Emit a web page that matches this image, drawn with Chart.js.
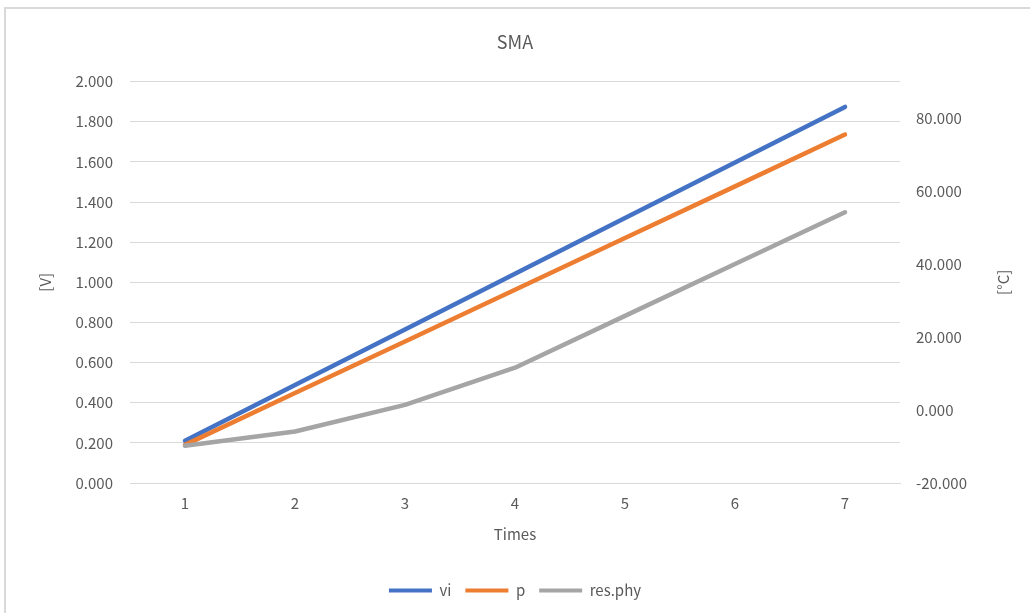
<!DOCTYPE html>
<html>
<head>
<meta charset="utf-8">
<script src="https://cdn.jsdelivr.net/npm/chart.js@4"></script>
<style>
  html, body { margin: 0; padding: 0; background: #fff; }
  #frame { position: absolute; left: 4px; top: 7px; width: 1100px; height: 700px;
           border-left: 2px solid #d9d9d9; border-top: 2px solid #d9d9d9; }
  #chart { position: absolute; left: 0; top: 0; }
</style>
</head>
<body>
<div id="frame"></div>
<canvas id="chart" width="1030" height="613"></canvas>
<script>
const times = ['1', '2', '3', '4', '5', '6', '7']
const vi = [0.211, 0.488, 0.765, 1.043, 1.320, 1.597, 1.874] // [V]
const p = [0.190, 0.448, 0.705, 0.963, 1.221, 1.478, 1.736] // [V]
const resPhy = [-9.8, -5.9, 1.4, 11.6, 25.8, 40.0, 54.2] // [°C]

const textColor = '#595959'
const gridColor = '#d9d9d9'
const fontFamily = '"Noto Sans CJK JP", "Noto Sans", sans-serif'

Chart.defaults.font.family = fontFamily
Chart.defaults.color = textColor

// axis titles, both read bottom to top like the original
const axisTitles = {
    id: 'axisTitles',
    afterDraw(chart) {
        const { ctx, chartArea } = chart
        const midY = (chartArea.top + chartArea.bottom) / 2
        ctx.save()
        ctx.font = '15px ' + fontFamily
        ctx.fillStyle = textColor
        ctx.textAlign = 'center'
        ctx.textBaseline = 'middle'
        for (const [x, label] of [[45, '[V]'], [1003, '[°C]']]) {
            ctx.save()
            ctx.translate(x, midY)
            ctx.rotate(-Math.PI / 2)
            ctx.fillText(label, 0, 0)
            ctx.restore()
        }
        ctx.restore()
    }
}

const lineStyle = (color) => ({
    borderColor: color,
    backgroundColor: color,
    borderWidth: 4.5,
    borderCapStyle: 'round',
    borderJoinStyle: 'round',
    pointRadius: 0,
    tension: 0,
    fill: false
})

new Chart(document.getElementById('chart'), {
    type: 'line',
    data: {
        labels: times,
        datasets: [
            { label: 'vi', data: vi, yAxisID: 'y', order: 3, ...lineStyle('#4472c4') },
            { label: 'p', data: p, yAxisID: 'y', order: 2, ...lineStyle('#ed7d31') },
            { label: 'res.phy', data: resPhy, yAxisID: 'y1', order: 1, ...lineStyle('#a5a5a5') }
        ]
    },
    options: {
        responsive: false,
        devicePixelRatio: 1,
        animation: false,
        layout: { padding: { left: 0, right: 0, top: 0, bottom: 5 } },
        scales: {
            x: {
                offset: true,
                grid: { display: false },
                border: { display: true, color: gridColor, width: 1 },
                ticks: { font: { size: 15 }, padding: 3, color: textColor },
                title: { display: true, text: 'Times', font: { size: 15 }, color: textColor, padding: { top: 0, bottom: 26 } },
                afterFit(scale) { scale.height = 86 }
            },
            y: {
                position: 'left',
                min: 0,
                max: 2,
                grid: { color: gridColor, drawTicks: false, lineWidth: 1 },
                border: { display: false },
                ticks: {
                    stepSize: 0.2,
                    padding: 17,
                    font: { size: 15 },
                    color: textColor,
                    callback: (v) => v.toFixed(3)
                },
                afterFit(scale) { scale.width = 130 }
            },
            y1: {
                position: 'right',
                min: -20,
                max: 90,
                grid: { display: false, drawTicks: false },
                border: { display: false },
                ticks: {
                    stepSize: 20,
                    padding: 16,
                    font: { size: 15 },
                    color: textColor,
                    callback: (v) => (v > 80 ? null : v.toFixed(3))
                },
                afterFit(scale) { scale.width = 130 }
            }
        },
        plugins: {
            title: {
                display: true,
                text: 'SMA',
                font: { size: 18, weight: 'normal' },
                color: textColor,
                padding: { top: 31, bottom: 29 }
            },
            legend: {
                position: 'bottom',
                labels: {
                    boxWidth: 43,
                    boxHeight: 4,
                    padding: 14,
                    font: { size: 15 },
                    color: textColor,
                    sort: (a, b) => a.datasetIndex - b.datasetIndex,
                    generateLabels(chart) {
                        const items = Chart.defaults.plugins.legend.labels.generateLabels(chart)
                        return items.map((it) => ({ ...it, fillStyle: it.strokeStyle, lineWidth: 0 }))
                    }
                }
            },
            tooltip: { enabled: false }
        }
    },
    plugins: [axisTitles]
})
</script>
</body>
</html>
